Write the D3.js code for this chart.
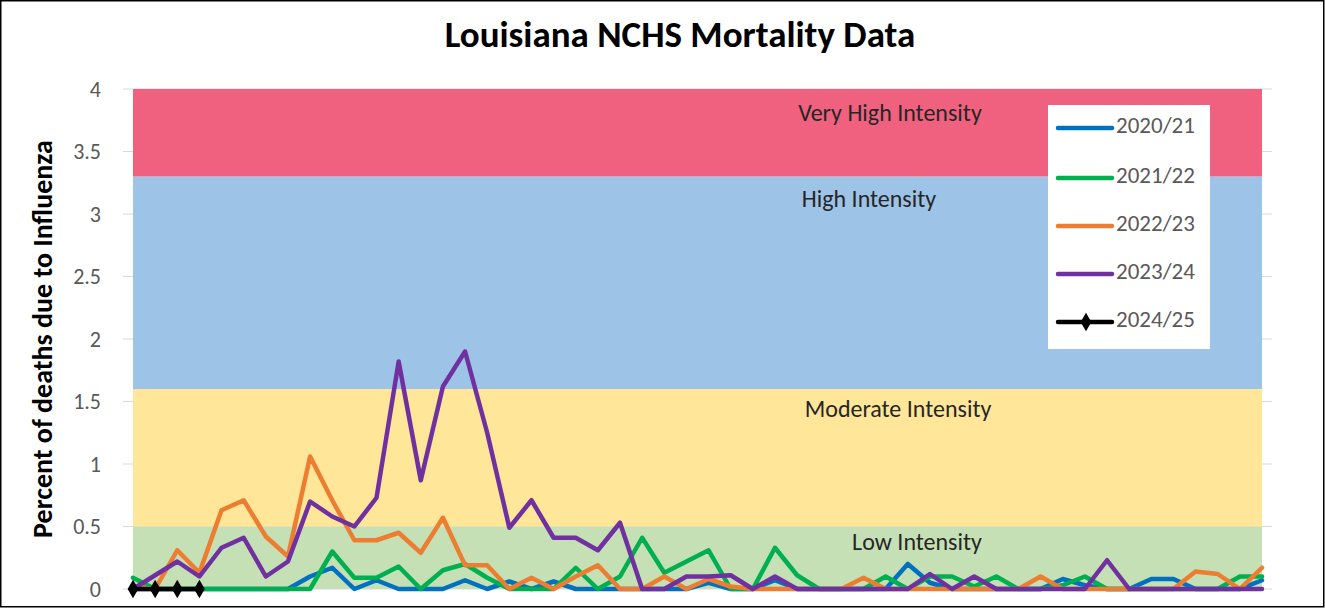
<!DOCTYPE html>
<html><head><meta charset="utf-8">
<script src="https://cdn.jsdelivr.net/npm/d3@7/dist/d3.min.js"></script>
<style>body{margin:0;background:#fff;}svg{display:block;}</style>
</head><body>
<svg id="c" width="1325" height="608"></svg>
<script>
const weeks = d3.range(52).map(i => "W" + (i + 1));
const yTicks = [0, 0.5, 1, 1.5, 2, 2.5, 3, 3.5, 4];
const bandNames = ["Low Intensity", "Moderate Intensity", "High Intensity", "Very High Intensity"];
const bandLo = [0, 0.5, 1.6, 3.3];
const bandHi = [0.5, 1.6, 3.3, 4];
const bandColors = ["#C5E0B4", "#FFE699", "#9DC3E6", "#F0617F"];
const seriesNames = ["2020/21", "2021/22", "2022/23", "2023/24", "2024/25"];
const seriesColors = ["#0070C0", "#00B050", "#ED7D31", "#7030A0", "#000000"];
const s2020 = [0,0,0,0,0,0,0,0,0.1,0.17,0,0.07,0,0,0,0.07,0,0.06,0,0.06,0,0,0,0,0,0,0.05,0,0,0.07,0,0,0,0,0,0.2,0.05,0,0,0,0,0,0.08,0.03,0,0,0.08,0.08,0,0,0,0.07];
const s2021 = [0.09,0,0,0,0,0,0,0,0,0.3,0.09,0.09,0.18,0,0.15,0.2,0.09,0,0,0,0.17,0,0.1,0.41,0.13,0.22,0.31,0,0,0.33,0.11,0,0,0,0.1,0,0.1,0.1,0.02,0.1,0,0,0.03,0.1,0,0,0,0,0,0,0.1,0.1];
const s2022 = [0.02,0,0.31,0.13,0.63,0.71,0.42,0.26,1.06,0.71,0.39,0.39,0.45,0.29,0.57,0.19,0.19,0,0.09,0,0.1,0.19,0,0,0.1,0,0.08,0.02,0,0,0,0,0,0.09,0,0,0,0,0,0,0,0.1,0,0,0,0,0,0,0.14,0.12,0,0.17];
const s2023 = [0,0.11,0.22,0.1,0.33,0.41,0.1,0.22,0.7,0.58,0.5,0.73,1.82,0.87,1.62,1.9,1.25,0.49,0.71,0.41,0.41,0.31,0.53,0,0,0.1,0.1,0.11,0,0.1,0,0,0,0,0,0,0.12,0,0.1,0,0,0,0,0,0.23,0,0,0,0,0,0,0];
const s2024 = [0,0,0,0];
const allSeries = [s2020, s2021, s2022, s2023, s2024];

const svg = d3.select("#c");
const font = "Carlito, Calibri, 'Open Sans', sans-serif";
svg.append("rect").attr("x",0.75).attr("y",0.75).attr("width",1323).attr("height",606).attr("fill","#fff").attr("stroke","#000").attr("stroke-width",1.5);

const x = d3.scalePoint().domain(weeks).range([133, 1262]);
const y = d3.scaleLinear().domain([0, 4]).range([589, 89]);

// gridlines
svg.append("g").selectAll("line").data(yTicks).join("line")
  .attr("x1",123).attr("x2",1272).attr("y1",d=>y(d)).attr("y2",d=>y(d))
  .attr("stroke","#D9D9D9").attr("stroke-width",1);

// bands
const area = d3.area().x(d=>x(d.w)).y0(d=>y(d.lo)).y1(d=>y(d.hi));
bandLo.forEach((lo,i)=>{
  svg.append("path").datum(weeks.map(w=>({w, lo, hi: bandHi[i]})))
    .attr("d", area).attr("fill", bandColors[i]);
});

// y axis
const yAxis = svg.append("g").attr("transform","translate(123,0)")
  .call(d3.axisLeft(y).tickValues(yTicks).tickSize(0).tickPadding(22).tickFormat(d3.format("")));
yAxis.select(".domain").remove();
yAxis.selectAll("text").attr("font-family",font).attr("font-size",22).attr("fill","#595959");

// band labels
const bandLabelX = [917, 898, 869, 890];
const bandLabelY = [544, 411, 201, 115];
bandNames.forEach((n,i)=>{
  svg.append("text").attr("x",bandLabelX[i]).attr("y",bandLabelY[i]).attr("text-anchor","middle")
    .attr("dominant-baseline","middle").attr("font-family",font).attr("font-size",24).attr("fill","#262626").text(n);
});

// lines
const line = d3.line().x((d,i)=>x(weeks[i])).y(d=>y(d));
allSeries.forEach((s,k)=>{
  svg.append("path").datum(s).attr("d",line).attr("fill","none")
    .attr("stroke",seriesColors[k]).attr("stroke-width",4.5).attr("stroke-linejoin","round").attr("stroke-linecap","round");
});
const diamond = d3.symbol().type(d3.symbolDiamond).size(100);
svg.append("g").selectAll("path").data(s2024).join("path")
  .attr("transform",(d,i)=>`translate(${x(weeks[i])},${y(d)})`).attr("d",diamond).attr("fill","#000");

// title
svg.append("text").attr("x",680).attr("y",38).attr("text-anchor","middle").attr("dominant-baseline","middle")
  .attr("font-family",font).attr("font-weight","bold").attr("font-size",37).attr("fill","#000").text("Louisiana NCHS Mortality Data");
svg.append("text").attr("transform","translate(45,339) rotate(-90)").attr("text-anchor","middle").attr("dominant-baseline","middle")
  .attr("font-family",font).attr("font-weight","bold").attr("font-size",28).attr("fill","#000").text("Percent of deaths due to Influenza");

// legend
const lg = svg.append("g");
lg.append("rect").attr("x",1048).attr("y",105).attr("width",162).attr("height",244).attr("fill","#fff");
const rowY = [128, 178, 226, 274, 322];
seriesNames.forEach((n,i)=>{
  lg.append("line").attr("x1",1058).attr("x2",1112).attr("y1",rowY[i]).attr("y2",rowY[i])
    .attr("stroke",seriesColors[i]).attr("stroke-width",4.5).attr("stroke-linecap","round");
  if(i===4) lg.append("path").attr("transform",`translate(1086,${rowY[i]})`).attr("d",diamond).attr("fill","#000");
  lg.append("text").attr("x",1116).attr("y",rowY[i]).attr("dominant-baseline","middle")
    .attr("font-family",font).attr("font-size",23).attr("fill","#595959").text(n);
});
</script>
</body></html>
